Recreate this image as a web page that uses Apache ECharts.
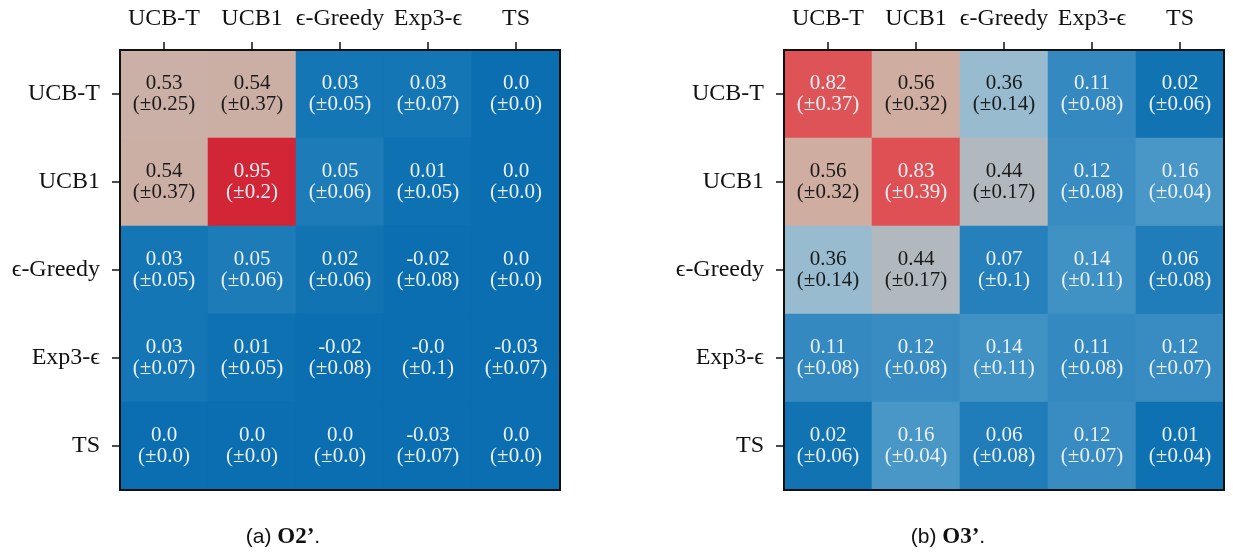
<!DOCTYPE html>
<html>
<head>
<meta charset="utf-8">
<script src="https://cdn.jsdelivr.net/npm/echarts@6/dist/echarts.min.js"></script>
<style>
  html, body { margin: 0; padding: 0; background: #fff; }
  #chart { width: 1233px; height: 552px; }
</style>
</head>
<body>
<div id="chart"></div>
<script>
const algos = ['UCB-T', 'UCB1', 'ϵ-Greedy', 'Exp3-ϵ', 'TS'];

// O2' : mean (row = algo, col = opponent) and std
const o2Mean = [
  ['0.53', '0.54', '0.03', '0.03', '0.0'],
  ['0.54', '0.95', '0.05', '0.01', '0.0'],
  ['0.03', '0.05', '0.02', '-0.02', '0.0'],
  ['0.03', '0.01', '-0.02', '-0.0', '-0.03'],
  ['0.0', '0.0', '0.0', '-0.03', '0.0']
];
const o2Std = [
  ['0.25', '0.37', '0.05', '0.07', '0.0'],
  ['0.37', '0.2', '0.06', '0.05', '0.0'],
  ['0.05', '0.06', '0.06', '0.08', '0.0'],
  ['0.07', '0.05', '0.08', '0.1', '0.07'],
  ['0.0', '0.0', '0.0', '0.07', '0.0']
];

// O3'
const o3Mean = [
  ['0.82', '0.56', '0.36', '0.11', '0.02'],
  ['0.56', '0.83', '0.44', '0.12', '0.16'],
  ['0.36', '0.44', '0.07', '0.14', '0.06'],
  ['0.11', '0.12', '0.14', '0.11', '0.12'],
  ['0.02', '0.16', '0.06', '0.12', '0.01']
];
const o3Std = [
  ['0.37', '0.32', '0.14', '0.08', '0.06'],
  ['0.32', '0.39', '0.17', '0.08', '0.04'],
  ['0.14', '0.17', '0.1', '0.11', '0.08'],
  ['0.08', '0.08', '0.11', '0.08', '0.07'],
  ['0.06', '0.04', '0.08', '0.07', '0.04']
];

// colour ramp, evenly spaced from -0.1 to 1.0
const ramp = ['#0a6eb0', '#0a6eb0', '#3087bf', '#5aa2cc', '#83b8d5', '#a6bdcb',
  '#c5b3ab', '#d6a999', '#dc8a80', '#e05a5a', '#d83a44', '#cc1028'];

const serif = "'Liberation Serif', 'DejaVu Serif', serif";

function cells(mean, std) {
  const out = [];
  mean.forEach((row, r) => {
    row.forEach((m, c) => {
      const v = parseFloat(m);
      out.push({
        value: [c, r, v],
        mean: m,
        std: std[r][c],
        label: { color: (v > 0.3 && v < 0.7) ? '#1a1a1a' : '#eaf0f6' }
      });
    });
  });
  return out;
}

const grids = [
  { left: 120, top: 50, width: 440, height: 440 },
  { left: 784, top: 50, width: 440, height: 440 }
];

const tick = { show: true, alignWithLabel: true, interval: 0, length: 8, lineStyle: { color: '#111', width: 1.5 } };
const lbl = { show: true, interval: 0, margin: 19, fontSize: 24, fontFamily: serif, color: '#111' };
const edge = { show: true, lineStyle: { color: '#111', width: 2 } };

const xAxes = [], yAxes = [];
grids.forEach((g, i) => {
  xAxes.push({
    type: 'category', gridIndex: i, position: 'top', data: algos, z: 10,
    axisLine: edge, axisTick: tick, axisLabel: lbl, splitLine: { show: false }
  });
  xAxes.push({
    type: 'category', gridIndex: i, position: 'bottom', data: algos, z: 10,
    axisLine: edge, axisTick: { show: false }, axisLabel: { show: false }
  });
  yAxes.push({
    type: 'category', gridIndex: i, position: 'left', data: algos, inverse: true, z: 10,
    axisLine: edge, axisTick: tick, axisLabel: Object.assign({}, lbl, { margin: 20 }),
    splitLine: { show: false }
  });
  yAxes.push({
    type: 'category', gridIndex: i, position: 'right', data: algos, inverse: true, z: 10,
    axisLine: edge, axisTick: { show: false }, axisLabel: { show: false }
  });
});

function heat(i, mean, std) {
  return {
    type: 'heatmap',
    xAxisIndex: i * 2,
    yAxisIndex: i * 2,
    data: cells(mean, std),
    itemStyle: { borderWidth: 0 },
    label: {
      show: true,
      fontFamily: serif,
      fontSize: 21,
      lineHeight: 21,
      formatter: p => p.data.mean + '\n(±' + p.data.std + ')'
    },
    emphasis: { disabled: true }
  };
}

function caption(x, tag, name) {
  return {
    type: 'text', x: x, y: 537, z: 10,
    style: {
      text: '{s|' + tag + ' }{b|' + name + '}{s|.}', align: 'center', verticalAlign: 'middle',
      rich: {
        s: { fontFamily: "'Liberation Sans', Arial, sans-serif", fontSize: 21, fill: '#111' },
        b: { fontFamily: serif, fontSize: 23, fontWeight: 'bold', fill: '#111' }
      }
    }
  };
}

const chart = echarts.init(document.getElementById('chart'));
chart.setOption({
  animation: false,
  backgroundColor: '#fff',
  grid: grids,
  xAxis: xAxes,
  yAxis: yAxes,
  visualMap: {
    type: 'continuous', show: false, min: -0.1, max: 1.0,
    seriesIndex: [0, 1], dimension: 2,
    inRange: { color: ramp }
  },
  series: [heat(0, o2Mean, o2Std), heat(1, o3Mean, o3Std)],
  graphic: [caption(283, '(a)', 'O2’'), caption(948, '(b)', 'O3’')]
});
</script>
</body>
</html>
